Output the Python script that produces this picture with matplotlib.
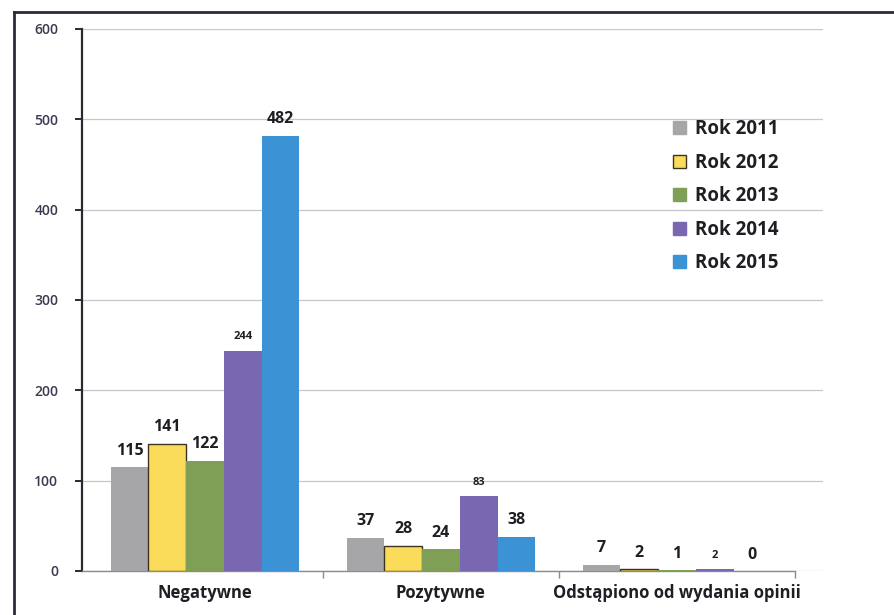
import matplotlib
matplotlib.use("Agg")
import matplotlib.pyplot as plt
from matplotlib.patches import Patch
from matplotlib.lines import Line2D
import numpy as np

categories = ["Negatywne", "Pozytywne", "Odstąpiono od wydania opinii"]
series_names = ["Rok 2011", "Rok 2012", "Rok 2013", "Rok 2014", "Rok 2015"]
rok_2011 = [115, 37, 7]
rok_2012 = [141, 28, 2]
rok_2013 = [122, 24, 1]
rok_2014 = [244, 83, 2]
rok_2015 = [482, 38, 0]
y_ticks = [0, 100, 200, 300, 400, 500, 600]

series = [rok_2011, rok_2012, rok_2013, rok_2014, rok_2015]
colors = ["#a6a6a8", "#fbdc5a", "#7f9f57", "#7a67b1", "#3b93d6"]
edges = ["none", "#3a3320", "none", "none", "none"]
# smaller value labels (as typeset in the original report)
small_labels = {(3, 0), (3, 1), (3, 2)}

plt.rcParams["font.family"] = ["Open Sans", "DejaVu Sans"]

fig = plt.figure(figsize=(8.95, 6.15), dpi=100)
fig.patch.set_facecolor("white")
ax = fig.add_axes([82 / 895, 1 - 571 / 615, (823 - 82) / 895, (571 - 29) / 615])

x = np.arange(len(categories))
width = 0.16
n = len(series)
for i, vals in enumerate(series):
    pos = x + (i - (n - 1) / 2) * width
    bars = ax.bar(pos, vals, width, color=colors[i], edgecolor=edges[i],
                  linewidth=1.0 if edges[i] != "none" else 0, zorder=3)
    for j, (b, v) in enumerate(zip(bars, vals)):
        small = (i, j) in small_labels
        ax.annotate(str(v), (b.get_x() + b.get_width() / 2, v),
                    xytext=(0, 6 if not small else 6), textcoords="offset points",
                    ha="center", va="bottom", fontweight="bold",
                    fontsize=8 if small else 11.5, color="#1e1e24", zorder=4)

ax.set_xlim(-0.521, 2.619)
ax.set_ylim(0, 600)
ax.set_yticks(y_ticks)
ax.set_yticklabels([str(t) for t in y_ticks], fontweight="semibold")
ax.yaxis.grid(True, color="#c6c6cc", linewidth=0.9, zorder=0)
ax.set_axisbelow(True)

for s in ["top", "right"]:
    ax.spines[s].set_visible(False)
ax.spines["left"].set_color("#2a2a33")
ax.spines["left"].set_linewidth(1.6)
ax.spines["bottom"].set_color("#8a8a90")
ax.spines["bottom"].set_linewidth(1.0)
ax.spines["bottom"].set_bounds(-0.521, 2.5)

ax.tick_params(axis="y", direction="out", length=5, width=1.4, color="#2a2a33",
               labelsize=10, labelcolor="#3a3a50", pad=12)
ax.set_xticks(x)
ax.set_xticklabels(categories, fontweight="bold", fontsize=12, color="#1e1e24")
ax.tick_params(axis="x", length=0, pad=9)
# category separators on the baseline
ax.set_xticks([0.5, 1.5, 2.5], minor=True)
ax.tick_params(axis="x", which="minor", direction="out", length=5,
               width=1.0, color="#8a8a90")

handles = [Patch(facecolor=c, edgecolor=(e if e != "none" else c), linewidth=1.0)
           for c, e in zip(colors, edges)]
leg = ax.legend(handles, series_names, loc="upper left",
                bbox_to_anchor=((664 - 82) / (823 - 82), (571 - 110) / (571 - 29)),
                frameon=False, handlelength=0.7, handleheight=0.7,
                handletextpad=0.45, labelspacing=0.72, borderpad=0,
                prop={"weight": "bold", "size": 13.5})
for t in leg.get_texts():
    t.set_color("#1e1e24")

# outer chart frame
fig.add_artist(Line2D([14 / 895, 14 / 895], [0, 1 - 12 / 615],
                      transform=fig.transFigure, color="#2a2a3a", linewidth=2))
fig.add_artist(Line2D([14 / 895, 1], [1 - 12 / 615, 1 - 12 / 615],
                      transform=fig.transFigure, color="#2a2a3a", linewidth=2))

fig.savefig("out.png", dpi=100, facecolor="white")
